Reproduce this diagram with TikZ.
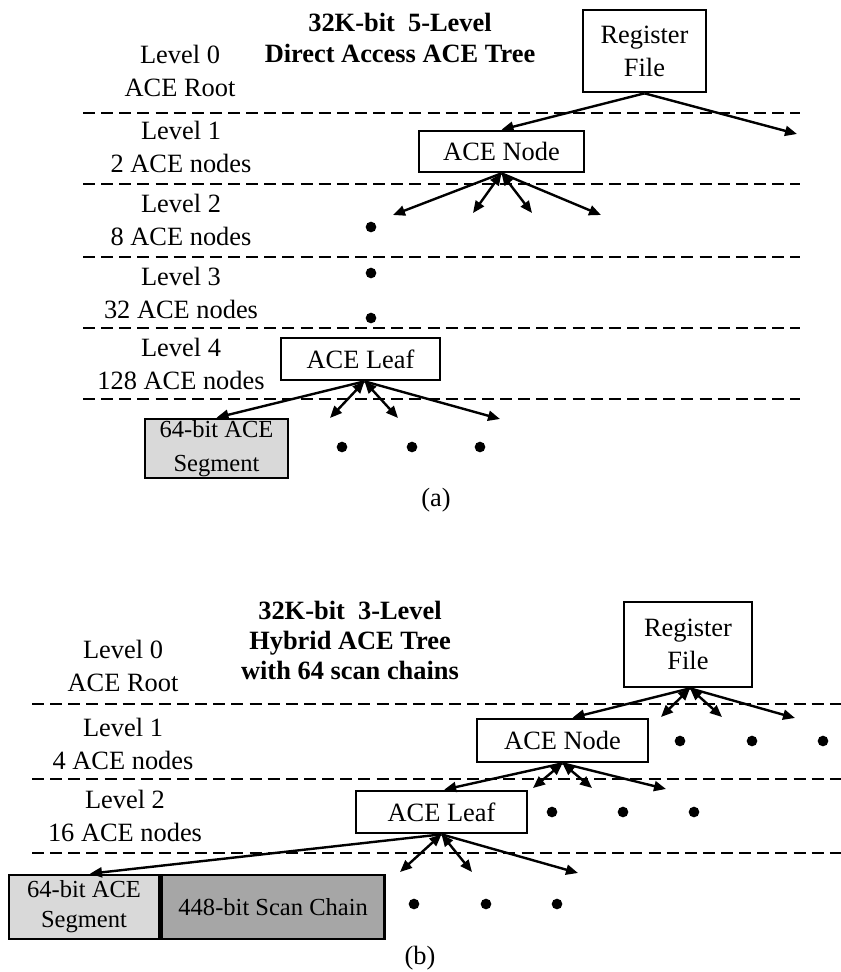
\documentclass[tikz,border=0pt]{standalone}
\usepackage{fontspec}
\setmainfont{Liberation Serif}
\usetikzlibrary{arrows.meta}
\begin{document}
\begin{tikzpicture}[x=0.75pt,y=-0.75pt,
  box/.style={draw,line width=2pt,inner sep=0pt,align=center,font=\fontsize{19.8}{24.75}\selectfont},
  segbox/.style={draw,line width=2pt,inner sep=0pt,align=center,font=\fontsize{18.4}{#1}\selectfont},
  lbl/.style={align=center,inner sep=0pt,font=\fontsize{19.8}{24.75}\selectfont},
  ttl/.style={align=center,inner sep=0pt,font=\bfseries\fontsize{19.8}{22.7}\selectfont},
  sep/.style={line width=2pt,dash pattern=on 9pt off 4.6pt},
  tip/.tip={Triangle[length=9pt,width=7.5pt]},
  link/.style={line width=1.8pt,-tip},
  blink/.style={line width=1.8pt,tip-tip},
  dot/.style={circle,fill,inner sep=0pt,minimum size=8pt}
]
\useasboundingbox (0,0) rectangle (841,972);

% ---------------- (a) 5-level direct access tree ----------------
\node[ttl] (titleA) at (400,38) {32K-bit\ \ 5-Level\\Direct Access ACE Tree};

\foreach \y in {113,184,257,328,399} \draw[sep] (83,\y) -- (800,\y);

\node[lbl] (lvA0) at (180,70.5) {Level 0\\ACE Root};
\node[lbl] (lvA1) at (181,147) {Level 1\\2 ACE nodes};
\node[lbl] (lvA2) at (181,220) {Level 2\\8 ACE nodes};
\node[lbl] (lvA3) at (181,293) {Level 3\\32 ACE nodes};
\node[lbl] (lvA4) at (181,363.5) {Level 4\\128 ACE nodes};

\node[box,minimum width=92.25pt,minimum height=61.5pt] (rfA) at (644.5,51) {Register\\File};
\node[box,minimum width=123.75pt,minimum height=30.75pt] (nodeA) at (501.5,151.5) {ACE Node};
\node[box,minimum width=119.25pt,minimum height=31.5pt] (leafA) at (360.5,359) {ACE Leaf};
\node[segbox=26pt,fill=black!15,minimum width=107.25pt,minimum height=44.25pt] (segA) at (216.5,448.5) {64-bit ACE\\Segment};

\coordinate (rfAend) at (797,134);
\coordinate (nA1) at (393,215);
\coordinate (nA2) at (473,213);
\coordinate (nA3) at (532,213);
\coordinate (nA4) at (601,215);
\coordinate (lA2) at (330,418);
\coordinate (lA3) at (398,418);
\coordinate (lA4) at (500,419);

\draw[link] (rfA.south) -- (nodeA.north);
\draw[link] (rfA.south) -- (rfAend);

\draw[link] (nodeA.south) -- (nA1);
\draw[blink] (nodeA.south) -- (nA2);
\draw[blink] (nodeA.south) -- (nA3);
\draw[link] (nodeA.south) -- (nA4);

\draw[link] ([xshift=3pt]leafA.south) -- (segA.north);
\draw[blink] ([xshift=3pt]leafA.south) -- (lA2);
\draw[blink] ([xshift=3pt]leafA.south) -- (lA3);
\draw[link] ([xshift=3pt]leafA.south) -- (lA4);

\node[dot] (dA1) at (371,227) {};
\node[dot] (dA2) at (371,273) {};
\node[dot] (dA3) at (371,318) {};
\node[dot] (dA4) at (342,447) {};
\node[dot] (dA5) at (412,447) {};
\node[dot] (dA6) at (480,447) {};

\node[lbl] (capA) at (436,500) {(a)};

% ---------------- (b) 3-level hybrid tree ----------------
\node[ttl] (titleB) at (350,640.5) {32K-bit\ \ 3-Level\\Hybrid ACE Tree\\with 64 scan chains};

\foreach \y in {704,779,853} \draw[sep] (32,\y) -- (841,\y);

\node[lbl] (lvB0) at (123,665.5) {Level 0\\ACE Root};
\node[lbl] (lvB1) at (123,744) {Level 1\\4 ACE nodes};
\node[lbl] (lvB2) at (125,816) {Level 2\\16 ACE nodes};

\node[box,minimum width=96pt,minimum height=63.75pt] (rfB) at (688,644.5) {Register\\File};
\node[box,minimum width=128.25pt,minimum height=32.25pt] (nodeB) at (562.5,740.5) {ACE Node};
\node[box,minimum width=128.25pt,minimum height=31.5pt] (leafB) at (441.5,812) {ACE Leaf};
\node[segbox=22.5pt,fill=black!15,minimum width=112.5pt,minimum height=48pt] (segB) at (84,907) {64-bit ACE\\Segment};
\node[segbox=22.5pt,fill=black!35,minimum width=167.25pt,minimum height=48pt,anchor=west] (scanB) at (segB.east) {448-bit Scan Chain};

\coordinate (rB2) at (661,717);
\coordinate (rB3) at (722,717);
\coordinate (rB4) at (795,718);
\coordinate (nB2) at (533,788);
\coordinate (nB3) at (592,788);
\coordinate (nB4) at (666,789);
\coordinate (lB2) at (400,872);
\coordinate (lB3) at (472,872);
\coordinate (lB4) at (578,873);

\draw[link] ([xshift=1.5pt]rfB.south) -- ([xshift=7.5pt]nodeB.north);
\draw[blink] ([xshift=1.5pt]rfB.south) -- (rB2);
\draw[blink] ([xshift=1.5pt]rfB.south) -- (rB3);
\draw[link] ([xshift=1.5pt]rfB.south) -- (rB4);

\draw[link] (nodeB.south) -- ([xshift=2pt]leafB.north);
\draw[blink] (nodeB.south) -- (nB2);
\draw[blink] (nodeB.south) -- (nB3);
\draw[link] (nodeB.south) -- (nB4);

\draw[link] (leafB.south) -- ([xshift=4.5pt]segB.north);
\draw[blink] (leafB.south) -- (lB2);
\draw[blink] (leafB.south) -- (lB3);
\draw[link] (leafB.south) -- (lB4);

\node[dot] (dB1) at (680,741) {};
\node[dot] (dB2) at (752,741) {};
\node[dot] (dB3) at (823,741) {};
\node[dot] (dB4) at (552,812) {};
\node[dot] (dB5) at (623,812) {};
\node[dot] (dB6) at (694,812) {};
\node[dot] (dB7) at (414,904) {};
\node[dot] (dB8) at (486,904) {};
\node[dot] (dB9) at (557,904) {};

\node[lbl] (capB) at (420,958) {(b)};
\end{tikzpicture}
\end{document}
